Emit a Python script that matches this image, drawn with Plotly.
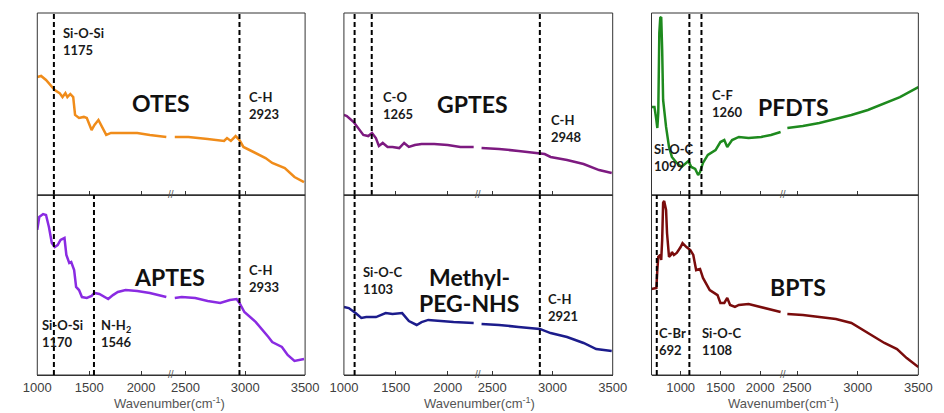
import plotly.graph_objects as go

# ---------------- data (wavenumber cm^-1, intensity in arbitrary units 0-100) -------------
otes_wn = [1000, 1037, 1084, 1131, 1168, 1215, 1243, 1271, 1290, 1318, 1346, 1364, 1402, 1449,
           1477, 1523, 1551, 1589, 1626, 1664, 1710, 1776, 1869, 1963, 2084, 2243,
           2410, 2524, 2685, 2822, 2847, 2879, 2919, 2951, 2984, 3064, 3169, 3225, 3330, 3411, 3491]
otes_int = [64.8, 65.4, 63.2, 60.4, 57.7, 56.0, 53.8, 56.0, 53.8, 55.5, 53.8, 44.0, 42.3, 42.9,
            42.3, 35.7, 38.5, 41.2, 37.4, 33.0, 34.1, 34.1, 34.1, 34.1, 33.0, 31.9,
            31.9, 31.9, 30.8, 29.7, 31.3, 29.7, 32.4, 30.2, 26.4, 23.6, 20.3, 17.6, 14.8, 9.9, 7.1]

aptes_wn = [1000, 1019, 1056, 1084, 1112, 1140, 1168, 1196, 1224, 1262, 1280, 1308, 1327, 1355,
            1374, 1402, 1430, 1477, 1523, 1551, 1598, 1645, 1683, 1729, 1776, 1851, 1963, 2084, 2243,
            2410, 2468, 2581, 2685, 2790, 2871, 2927, 2951, 2992, 3088, 3193, 3225, 3306, 3354,
            3411, 3491]
aptes_int = [80.6, 87.8, 89.4, 88.9, 82.2, 73.3, 71.1, 72.2, 75.0, 76.1, 66.7, 62.2, 62.8, 58.3,
             48.9, 47.2, 43.3, 42.8, 43.9, 45.6, 45.0, 43.3, 42.2, 44.4, 46.1, 47.2, 46.7, 45.6, 43.3,
             42.8, 43.3, 42.8, 41.1, 40.0, 41.7, 42.2, 40.0, 35.0, 29.4, 21.1, 18.3, 15.6, 11.1,
             7.8, 8.9]

gptes_wn = [1000, 1028, 1094, 1140, 1187, 1234, 1271, 1308, 1337, 1374, 1421, 1468, 1533, 1580,
            1626, 1683, 1748, 1869, 2000, 2122, 2250,
            2411, 2556, 2718, 2855, 2935, 2984, 3121, 3258, 3387, 3492]
gptes_int = [44.0, 43.4, 40.1, 36.8, 33.0, 32.4, 34.1, 31.3, 26.9, 28.6, 26.4, 26.4, 25.8, 28.6,
             26.4, 27.5, 28.0, 28.0, 27.5, 26.4, 26.4,
             25.8, 25.3, 24.2, 23.1, 22.5, 20.9, 19.2, 17.0, 13.7, 12.1]

peg_wn = [1000, 1047, 1112, 1168, 1215, 1309, 1402, 1468, 1561, 1589, 1626, 1701, 1748, 1813,
          1935, 2056, 2250,
          2411, 2556, 2718, 2855, 2895, 2984, 3121, 3258, 3363, 3492]
peg_int = [37.8, 37.2, 34.4, 31.7, 32.2, 32.2, 34.4, 33.9, 34.4, 32.2, 30.0, 27.8, 29.4, 30.6,
           30.0, 29.4, 28.9,
           28.3, 27.8, 26.7, 26.1, 25.6, 23.3, 21.1, 17.8, 14.4, 13.3]

pfdts_wn = [634, 671, 695, 707, 719, 732, 744, 756, 768, 780, 817, 854, 890, 951, 1012, 1061, 1098,
            1134, 1183, 1220, 1244, 1281, 1342, 1439, 1500, 1549, 1586, 1647, 1732, 1854, 2013, 2135,
            2257,
            2420, 2548, 2684, 2820, 2948, 3084, 3220, 3348, 3500]
pfdts_int = [48.4, 48.4, 41.2, 36.8, 45.1, 89.0, 97.3, 97.8, 79.7, 52.2, 37.4, 26.4, 20.9, 17.6,
             15.4, 17.0, 18.7, 15.4, 14.3, 11.0, 12.6, 17.6, 22.0, 24.7, 29.1, 30.2, 26.4, 30.2,
             31.9, 31.3, 31.9, 33.0, 34.6,
             36.8, 37.9, 39.6, 41.8, 44.0, 46.7, 50.5, 53.8, 59.3]

bpts_wn = [634, 695, 707, 719, 744, 756, 768, 780, 793, 817, 829, 854, 878, 890, 915, 951, 1000,
           1024, 1073, 1122, 1159, 1195, 1244, 1281, 1366, 1464, 1500, 1549, 1586, 1622, 1683,
           1732, 1854, 2013, 2257,
           2420, 2548, 2684, 2820, 2948, 3084, 3220, 3324, 3404, 3500]
bpts_int = [47.8, 48.3, 58.3, 65.6, 66.7, 63.9, 75.0, 95.6, 96.7, 91.7, 78.9, 65.6, 66.7, 68.3,
            66.7, 67.8, 71.1, 73.3, 71.1, 69.4, 66.7, 58.3, 58.9, 53.9, 47.2, 44.4, 40.0, 40.0,
            42.8, 38.9, 37.8, 38.9, 39.4, 37.8, 35.0,
            33.9, 33.3, 32.2, 31.1, 28.9, 23.3, 17.8, 14.4, 9.4, 4.4]

names = ["OTES", "APTES", "GPTES", "Methyl-PEG-NHS", "PFDTS", "BPTS"]
series_wn = [otes_wn, aptes_wn, gptes_wn, peg_wn, pfdts_wn, bpts_wn]
series_int = [otes_int, aptes_int, gptes_int, peg_int, pfdts_int, bpts_int]
colors = ["#F08C1A", "#8A2BE2", "#7D1A80", "#1C1C8C", "#1E8A1E", "#7A0C0C"]

# peak marker lines per panel (wavenumber)
peak_lines = [[1160, 2951], [1160, 1546, 2951], [1103, 1268, 2895], [1103, 2895],
              [1110, 1262], [700, 1110]]

# peak labels: (panel, text, x px, y px) left aligned
peak_labels = [
    (0, "Si-O-Si<br>1175", 48, 42), (0, "C-H<br>2923", 240, 105),
    (1, "C-H<br>2933", 240, 278), (1, "Si-O-Si<br>1170", 27, 333), (1, "N-H<sub>2</sub><br>1546", 88, 333),
    (2, "C-O<br>1265", 378, 105), (2, "C-H<br>2948", 551, 129),
    (3, "Si-O-C<br>1103", 358, 280), (3, "C-H<br>2921", 548, 307),
    (4, "C-F<br>1260", 717, 104), (4, "Si-O-C<br>1099", 657, 157),
    (5, "C-Br<br>692", 663, 341), (5, "Si-O-C<br>1108", 707, 341),
]
# sample titles: (text, center x px, center y px)
sample_titles = [("OTES", 152, 103), ("APTES", 160, 277), ("GPTES", 472, 104),
                 ("Methyl-", 469, 277), ("PEG-NHS", 469, 303), ("PFDTS", 803, 107),
                 ("BPTS", 808, 287)]

# ---------------- layout geometry -------------
W, H = 944, 413
cols_px = [(24, 162, 300), (340, 478, 617), (657, 793, 932)]
rows_px = [(13, 195), (195, 375)]
left_ranges = [[1000, 2290], [1000, 2290], [634, 2293]]
right_ranges = [[2380, 3500], [2380, 3500], [2388, 3500]]
left_ticks = [1000, 1500, 2000]
right_ticks = [2500, 3000, 3500]

fx = lambda px: px / W
fy = lambda py: 1 - py / H

fig = go.Figure()
layout = dict(width=W, height=H, margin=dict(l=0, r=0, t=0, b=0),
              paper_bgcolor="white", plot_bgcolor="rgba(0,0,0,0)", showlegend=False)
shapes, annotations = [], []

tickfont = dict(family="Liberation Sans, Arial", size=13, color="#404040")

for p in range(6):
    c, r = p // 2, p % 2
    xl, xm, xr = cols_px[c]
    yt, yb = rows_px[r]
    ax_l, ax_r, ay = 2 * p + 1, 2 * p + 2, p + 1
    yname = "y" if ay == 1 else f"y{ay}"
    xnl = "x" if ax_l == 1 else f"x{ax_l}"
    xnr = f"x{ax_r}"
    common = dict(showgrid=False, zeroline=False, showline=True, linecolor="#333", linewidth=1,
                  ticks="inside", ticklen=4, tickwidth=1, tickcolor="#333",
                  showticklabels=(r == 1), tickfont=tickfont, anchor=yname)
    layout["xaxis" if ax_l == 1 else f"xaxis{ax_l}"] = dict(
        domain=[fx(xl), fx(xm)], range=left_ranges[c], tickvals=left_ticks, **common)
    layout[f"xaxis{ax_r}"] = dict(
        domain=[fx(xm), fx(xr)], range=right_ranges[c], tickvals=right_ticks, **common)
    layout["yaxis" if ay == 1 else f"yaxis{ay}"] = dict(
        domain=[fy(yb), fy(yt)], range=[0, 100], visible=False, anchor=xnl)

    wn, it = series_wn[p], series_int[p]
    lmax, rmin = left_ranges[c][1], right_ranges[c][0]
    lx = [w for w in wn if w <= lmax]
    ly = [v for w, v in zip(wn, it) if w <= lmax]
    rx = [w for w in wn if w >= rmin]
    ry = [v for w, v in zip(wn, it) if w >= rmin]
    for xs, ys, xa in ((lx, ly, xnl), (rx, ry, xnr)):
        fig.add_trace(go.Scatter(x=xs, y=ys, mode="lines", xaxis=xa, yaxis=yname,
                                 line=dict(color=colors[p], width=2.5), name=names[p],
                                 hoverinfo="skip"))

    # frame
    shapes.append(dict(type="rect", xref="paper", yref="paper", x0=fx(xl), x1=fx(xr),
                       y0=fy(yb), y1=fy(yt), line=dict(color="#333", width=1), layer="above"))
    # dashed peak lines
    for w in peak_lines[p]:
        xa = xnl if w <= lmax else xnr
        shapes.append(dict(type="line", xref=xa, yref=f"{yname} domain", x0=w, x1=w, y0=0, y1=1,
                           line=dict(color="black", width=2, dash="5px,3px")))
    # axis break marks
    annotations.append(dict(xref="paper", yref="paper", x=fx(xm), y=fy(yb - 1), text="//",
                            showarrow=False, font=dict(family="Liberation Sans", size=10, color="#555"),
                            xanchor="center", yanchor="middle"))

for p, txt, px, py in peak_labels:
    annotations.append(dict(xref="paper", yref="paper", x=fx(px), y=fy(py), text=f"<b>{txt}</b>",
                            showarrow=False, xanchor="left", yanchor="middle", align="left",
                            font=dict(family="Lato", size=13, color="#1a1a1a")))
for txt, px, py in sample_titles:
    annotations.append(dict(xref="paper", yref="paper", x=fx(px), y=fy(py), text=f"<b>{txt}</b>",
                            showarrow=False, xanchor="center", yanchor="middle",
                            font=dict(family="Lato", size=23, color="#111")))
for cx in (160, 480, 793):
    annotations.append(dict(xref="paper", yref="paper", x=fx(cx), y=fy(403),
                            text="Wavenumber(cm<sup>-1</sup>)", showarrow=False,
                            xanchor="center", yanchor="middle",
                            font=dict(family="Liberation Sans, Arial", size=13, color="#555")))

layout["shapes"] = shapes
layout["annotations"] = annotations
fig.update_layout(**layout)
fig.write_html("out.html")
